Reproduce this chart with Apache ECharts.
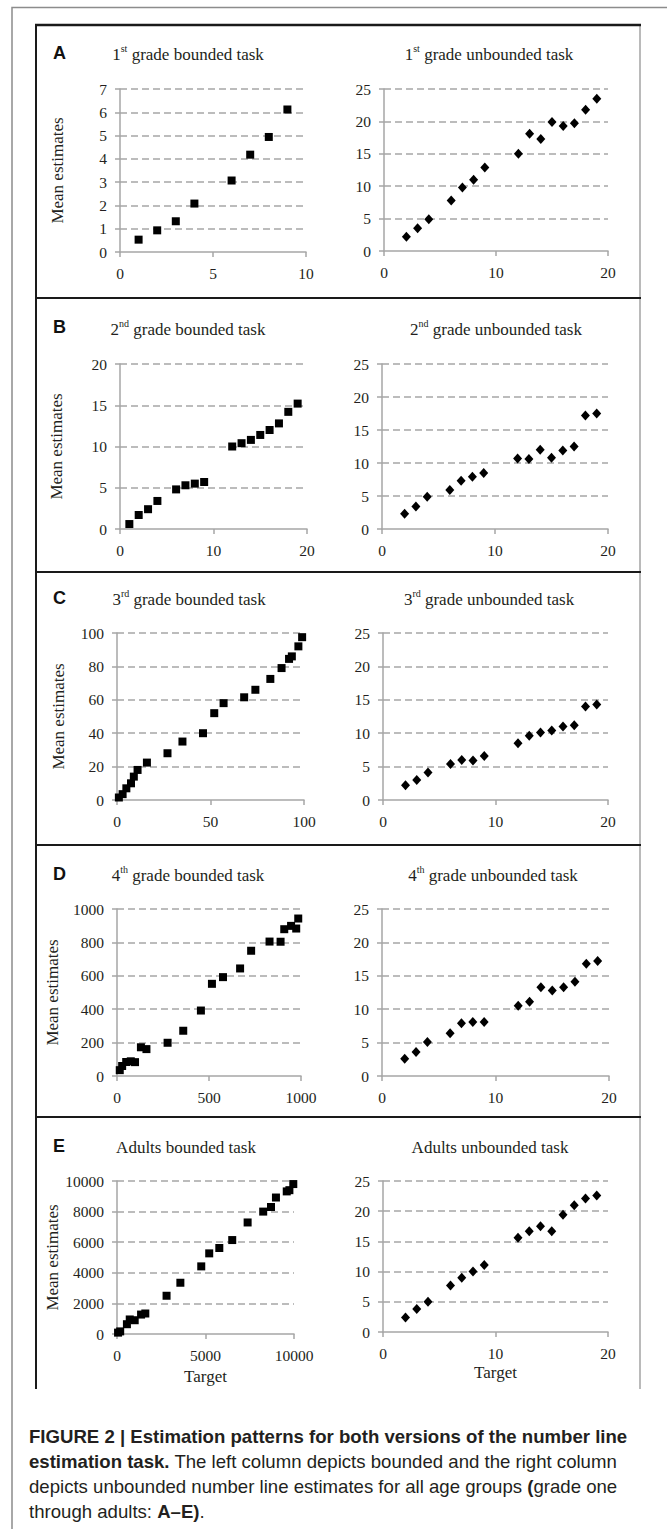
<!DOCTYPE html>
<html>
<head>
<meta charset="utf-8">
<title>Estimation patterns</title>
<script src="https://cdn.jsdelivr.net/npm/echarts@6/dist/echarts.min.js"></script>
<style>
  html, body { margin: 0; padding: 0; background: #fff; }
  #page { position: relative; width: 667px; height: 1529px; overflow: hidden; }
  #chart { position: absolute; left: 0; top: 0; width: 667px; height: 1529px; }
  /* keep every chart text in the serif face */
  #chart text { font-family: "Liberation Serif", "Times New Roman", serif !important; }
  .letter {
    position: absolute; left: 53px; height: 20px;
    font: bold 18px/20px "Liberation Sans", Arial, sans-serif; color: #111;
  }
  #caption {
    position: absolute; left: 29px; top: 1424px; width: 630px;
    font: 18.6px/25px "Liberation Sans", Arial, sans-serif; color: #231f20;
    white-space: nowrap;
  }
</style>
</head>
<body>
<div id="page">
  <div id="chart"></div>
  <div id="caption"><b>FIGURE 2 | Estimation patterns for both versions of the number line<br>estimation task.</b> The left column depicts bounded and the right column<br>depicts unbounded number line estimates for all age groups <b>(</b>grade one<br>through adults: <b>A–E)</b>.</div>
</div>
<script>
// targets used in every unbounded (0-25 scale) task
const unboundedTargets = [2, 3, 4, 6, 7, 8, 9, 12, 13, 14, 15, 16, 17, 18, 19]
const grade1Unbounded = [2.2, 3.5, 4.9, 7.8, 9.8, 11.0, 12.9, 15.0, 18.1, 17.3, 19.9, 19.3, 19.7, 21.8, 23.5]
const grade2Unbounded = [2.3, 3.4, 4.9, 5.9, 7.3, 7.9, 8.5, 10.7, 10.6, 12.0, 10.8, 11.9, 12.5, 17.2, 17.5]
const grade3Unbounded = [2.2, 3.0, 4.1, 5.4, 6.0, 5.9, 6.6, 8.5, 9.6, 10.1, 10.4, 11.0, 11.2, 14.0, 14.3]
const grade4Unbounded = [2.6, 3.6, 5.1, 6.4, 7.9, 8.1, 8.1, 10.5, 11.1, 13.3, 12.8, 13.3, 14.1, 16.8, 17.2]
const adultsUnbounded = [2.4, 3.8, 5.0, 7.7, 9.0, 10.0, 11.1, 15.6, 16.7, 17.5, 16.7, 19.4, 21.0, 22.1, 22.6]

// bounded tasks: each grade has its own range and targets
const grade1Targets = [1, 2, 3, 4, 6, 7, 8, 9]
const grade1Bounded = [0.53, 0.93, 1.32, 2.08, 3.07, 4.18, 4.94, 6.12]
const grade2Targets = [1, 2, 3, 4, 6, 7, 8, 9, 12, 13, 14, 15, 16, 17, 18, 19]
const grade2Bounded = [0.6, 1.7, 2.4, 3.4, 4.8, 5.3, 5.5, 5.7, 10.0, 10.4, 10.8, 11.4, 12.0, 12.8, 14.2, 15.2]
const grade3Targets = [1, 3, 5, 7.5, 9, 11, 16, 27, 35, 46, 52, 57, 68, 74, 82, 88, 92, 93.5, 97, 99]
const grade3Bounded = [1.5, 3.5, 7, 10, 14, 18, 22.4, 28, 35, 40, 52, 58, 61.5, 66, 72.5, 79, 84.5, 86, 92, 97.5]
const grade4Targets = [15, 28, 50, 75, 98, 130, 160, 275, 360, 456, 516, 576, 669, 729, 829, 889, 909, 946, 974, 985]
const grade4Bounded = [35, 60, 84, 88, 83, 172, 161, 199, 271, 392, 552, 592, 644, 750, 805, 804, 879, 899, 883, 943]
const adultsTargets = [60, 180, 560, 720, 1000, 1360, 1600, 2800, 3580, 4760, 5210, 5780, 6510, 7380, 8260, 8700, 8980, 9590, 9740, 9960]
const adultsBounded = [90, 170, 640, 950, 900, 1270, 1340, 2500, 3350, 4420, 5270, 5620, 6140, 7290, 8000, 8300, 8920, 9320, 9400, 9800]

const panelLetters = ['A', 'B', 'C', 'D', 'E']
const yAxisName = 'Mean estimates'
const xAxisName = 'Target'

const serif = 'Liberation Serif'
const grey = '#a6a6a6'
const ink = '#231f20'

// boxed rows of the figure
const rowTops = [25, 298, 572, 845, 1117]
const rowBottom = 1389
const letterY = [53, 327, 598, 874, 1146]

// one entry per small chart: grid [left, top, width, height]
const plots = [
  { grid: [120, 89, 186, 163], xMax: 10, xStep: 5, yMax: 7, yStep: 1, xs: grade1Targets, ys: grade1Bounded, bounded: true,
    title: ['1', 'st', ' grade bounded task'], cx: 188, cy: 53, nameGap: 54 },
  { grid: [384, 89, 224, 162], xMax: 20, xStep: 10, yMax: 25, yStep: 5, xs: unboundedTargets, ys: grade1Unbounded,
    title: ['1', 'st', ' grade unbounded task'], cx: 489, cy: 53 },
  { grid: [120, 364, 187, 165], xMax: 20, xStep: 10, yMax: 20, yStep: 5, xs: grade2Targets, ys: grade2Bounded, bounded: true,
    title: ['2', 'nd', ' grade bounded task'], cx: 188, cy: 328, nameGap: 55 },
  { grid: [382, 364, 226, 165], xMax: 20, xStep: 10, yMax: 25, yStep: 5, xs: unboundedTargets, ys: grade2Unbounded,
    title: ['2', 'nd', ' grade unbounded task'], cx: 496, cy: 328 },
  { grid: [117, 633, 187, 167], xMax: 100, xStep: 50, yMax: 100, yStep: 20, xs: grade3Targets, ys: grade3Bounded, bounded: true,
    title: ['3', 'rd', ' grade bounded task'], cx: 189, cy: 598, nameGap: 50 },
  { grid: [383, 633, 225, 167], xMax: 20, xStep: 10, yMax: 25, yStep: 5, xs: unboundedTargets, ys: grade3Unbounded,
    title: ['3', 'rd', ' grade unbounded task'], cx: 489, cy: 598 },
  { grid: [117, 909, 184, 167], xMax: 1000, xStep: 500, yMax: 1000, yStep: 200, xs: grade4Targets, ys: grade4Bounded, bounded: true,
    title: ['4', 'th', ' grade bounded task'], cx: 188, cy: 874, nameGap: 56 },
  { grid: [382, 909, 227, 167], xMax: 20, xStep: 10, yMax: 25, yStep: 5, xs: unboundedTargets, ys: grade4Unbounded,
    title: ['4', 'th', ' grade unbounded task'], cx: 493, cy: 874 },
  { grid: [117, 1181, 177, 153], xMax: 10000, xStep: 5000, yMax: 10000, yStep: 2000, xs: adultsTargets, ys: adultsBounded, bounded: true,
    title: ['Adults bounded task'], cx: 186, cy: 1146, nameGap: 56, xNameGap: 34 },
  { grid: [383, 1181, 225, 151], xMax: 20, xStep: 10, yMax: 25, yStep: 5, xs: unboundedTargets, ys: adultsUnbounded,
    title: ['Adults unbounded task'], cx: 490, cy: 1146, xNameGap: 32 },
]

const labelStyle = () => ({
  show: true, color: ink, fontFamily: serif, fontSize: 15.5, margin: 13,
  formatter: (v) => String(v),
})
const nameStyle = () => ({ color: ink, fontFamily: serif, fontSize: 17 })

function richTitle(parts) {
  if (parts.length === 1) return `{n|${parts[0]}}`
  return `{n|${parts[0]}}{s|${parts[1]}}{n|${parts[2]}}`
}

const grids = plots.map((p) => ({
  left: p.grid[0], top: p.grid[1], width: p.grid[2], height: p.grid[3],
  containLabel: false, outerBoundsMode: 'none',
}))

const xAxes = plots.map((p, i) => ({
  gridIndex: i, type: 'value', min: 0, max: p.xMax, interval: p.xStep,
  axisLine: { show: true, onZero: false, lineStyle: { color: grey, width: 1.5 } },
  axisTick: { show: true, length: 5, lineStyle: { color: grey, width: 1.5 } },
  splitLine: { show: false },
  axisLabel: labelStyle(),
  name: p.xNameGap ? xAxisName : '',
  nameLocation: 'middle', nameGap: p.xNameGap || 0, nameMoveOverlap: false,
  nameTextStyle: nameStyle(),
}))

const yAxes = plots.map((p, i) => ({
  gridIndex: i, type: 'value', min: 0, max: p.yMax, interval: p.yStep,
  axisLine: { show: true, onZero: false, lineStyle: { color: grey, width: 1.5 } },
  axisTick: { show: true, length: 5, lineStyle: { color: grey, width: 1.5 } },
  splitLine: { show: true, showMinLine: false, lineStyle: { color: grey, width: 1.5, type: [7, 4] } },
  axisLabel: labelStyle(),
  name: p.nameGap ? yAxisName : '',
  nameLocation: 'middle', nameGap: p.nameGap || 0, nameMoveOverlap: false,
  nameTextStyle: nameStyle(),
}))

const series = plots.map((p, i) => ({
  type: 'scatter', xAxisIndex: i, yAxisIndex: i,
  data: p.xs.map((x, k) => [x, p.ys[k]]),
  symbol: p.bounded ? 'rect' : 'diamond',
  symbolSize: p.bounded ? 8 : [9, 10],
  itemStyle: { color: '#000', opacity: 1 },
  emphasis: { disabled: true },
}))

const frame = [
  { type: 'polyline', shape: { points: [[12, 1529], [12, 7.5], [667, 7.5]] },
    style: { stroke: '#8c8c8c', lineWidth: 1.5, fill: null } },
  { type: 'line', shape: { x1: 36, y1: 25, x2: 36, y2: rowBottom }, style: { stroke: '#1a1a1a', lineWidth: 2 } },
  { type: 'line', shape: { x1: 640, y1: 25, x2: 640, y2: rowBottom }, style: { stroke: '#8c8c8c', lineWidth: 1.2 } },
  ...rowTops.map((y, i) => ({
    type: 'line', shape: { x1: 35, y1: y, x2: 641, y2: y },
    style: { stroke: '#1a1a1a', lineWidth: i === 0 ? 2.5 : 2 },
  })),
]

const titles = plots.map((p) => ({
  type: 'text', x: p.cx, y: p.cy,
  style: {
    text: richTitle(p.title), fill: ink, align: 'center', verticalAlign: 'middle',
    rich: {
      n: { font: `17px "${serif}", serif`, fill: ink, lineHeight: 20, verticalAlign: 'bottom' },
      s: { font: `10px "${serif}", serif`, fill: ink, lineHeight: 11, verticalAlign: 'top' },
    },
  },
}))

// panel letters sit outside the chart as plain HTML text (bold sans)
const page = document.getElementById('page')
panelLetters.forEach((t, i) => {
  const el = document.createElement('div')
  el.className = 'letter'
  el.style.top = (letterY[i] - 10) + 'px'
  el.textContent = t
  page.appendChild(el)
})

const chart = echarts.init(document.getElementById('chart'), null, { renderer: 'svg' })
chart.setOption({
  animation: false,
  backgroundColor: '#fff',
  textStyle: { fontFamily: serif },
  grid: grids,
  xAxis: xAxes,
  yAxis: yAxes,
  series: series,
  graphic: { elements: [...frame, ...titles] },
})

// belt and braces: pin the serif face on the rendered svg text nodes
function pinSerif() {
  document.querySelectorAll('#chart text').forEach((t) =>
    t.style.setProperty('font-family', '"Liberation Serif", "Times New Roman", serif', 'important'))
}
pinSerif()
chart.on('finished', pinSerif)
</script>
</body>
</html>
